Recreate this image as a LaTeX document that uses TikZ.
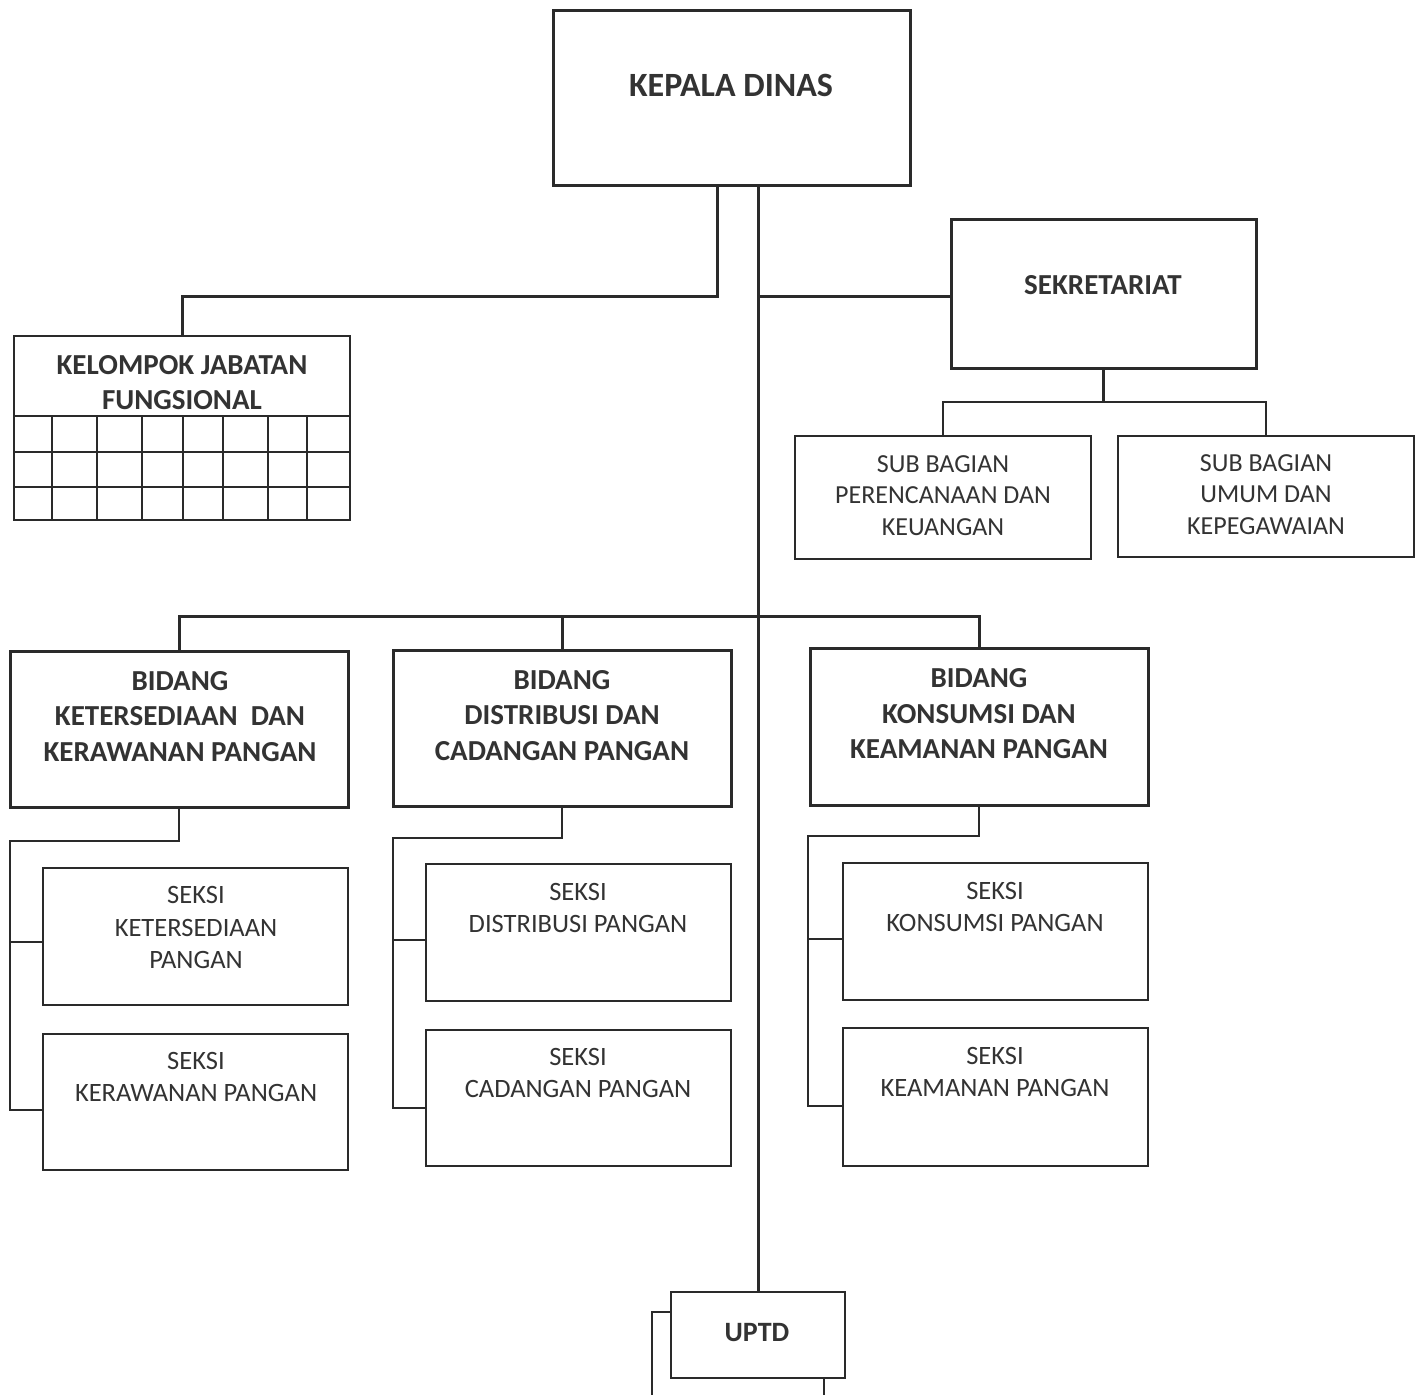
\documentclass[tikz,border=0pt]{standalone}
\usepackage{fontspec}
\setmainfont{Carlito}
\definecolor{linec}{HTML}{2A2A2A}
\definecolor{textc}{HTML}{333333}
\tikzset{
  box/.style={draw=linec, line width=3pt, inner sep=0pt, fill=white},
  thinbox/.style={draw=linec, line width=2.4pt, inner sep=0pt, fill=white},
  conn/.style={draw=linec, line width=3pt},
  bigtxt/.style={text=textc, font=\fontsize{34}{40}\selectfont\bfseries, inner sep=0pt},
  headtxt/.style={text=textc, font=\fontsize{29}{35.5}\selectfont\bfseries, align=center, inner sep=0pt},
  subtxt/.style={text=textc, font=\fontsize{26}{31.5}\selectfont, align=center, inner sep=0pt},
  sektxt/.style={text=textc, font=\fontsize{26.5}{32.5}\selectfont, align=center, inner sep=0pt}
}
\begin{document}
\begin{tikzpicture}[x=1pt,y=-1pt]
\useasboundingbox[fill=white] (0,0) rectangle (1424,1395);

% ---- boxes ----
\node[box, minimum width=357, minimum height=175] (kd) at (731.5,97.5) {};
\node[box, minimum width=305, minimum height=149] (sek) at (1103.5,293.5) {};
\node[thinbox, minimum width=296, minimum height=123] (sb1) at (943,497.5) {};
\node[thinbox, minimum width=296, minimum height=121] (sb2) at (1266,496.5) {};
\node[box, line width=2.6pt, minimum width=336, minimum height=184] (kjf) at (182,428) {};

\node[box, minimum width=338, minimum height=156] (bd1) at (179,729) {};
\node[box, minimum width=338, minimum height=156] (bd2) at (562,728) {};
\node[box, minimum width=338, minimum height=157] (bd3) at (979,726.5) {};

\node[thinbox, minimum width=305, minimum height=137] (s1a) at (195.5,936.5) {};
\node[thinbox, minimum width=305, minimum height=136] (s1b) at (195.5,1102) {};
\node[thinbox, minimum width=305, minimum height=137] (s2a) at (578.5,932.5) {};
\node[thinbox, minimum width=305, minimum height=136] (s2b) at (578.5,1098) {};
\node[thinbox, minimum width=305, minimum height=137] (s3a) at (995.5,931.5) {};
\node[thinbox, minimum width=305, minimum height=138] (s3b) at (995.5,1097) {};

% ---- UPTD (with box behind) ----
\coordinate (ush) at (652,1312);
\coordinate (ush2) at (824,1378);
\coordinate (bot) at (0,1395);
\draw[conn, line width=2.6pt] (671,1312) -- (ush) -- (ush |- bot);
\draw[conn, line width=2.6pt] (ush2) -- (ush2 |- bot);
\node[box, line width=2.6pt, minimum width=174, minimum height=86] (uptd) at (758,1335) {};

% ---- grid of Kelompok Jabatan Fungsional ----
\foreach \yy in {416,452,487} \draw[linec, line width=2.4pt] (14,\yy) -- (350,\yy);
\foreach \xx in {52,97,142,183,223,268,307} \draw[linec, line width=2.4pt] (\xx,416) -- (\xx,520);

% ---- texts ----
\node[bigtxt] (kd-t) at (731,85) {KEPALA DINAS};
\node[headtxt] (sek-t) at (1103,285) {SEKRETARIAT};
\node[headtxt] (kjf-t) at (182,382.5) {KELOMPOK JABATAN\\FUNGSIONAL};
\node[subtxt] (sb1-t) at (943,495.5) {SUB BAGIAN\\PERENCANAAN DAN\\KEUANGAN};
\node[subtxt] (sb2-t) at (1266,494.5) {SUB BAGIAN\\UMUM DAN\\KEPEGAWAIAN};
\node[headtxt] (bd1-t) at (180,716.5) {BIDANG\\KETERSEDIAAN\ \ DAN\\KERAWANAN PANGAN};
\node[headtxt] (bd2-t) at (562,715.5) {BIDANG\\DISTRIBUSI DAN\\CADANGAN PANGAN};
\node[headtxt] (bd3-t) at (979,714) {BIDANG\\KONSUMSI DAN\\KEAMANAN PANGAN};
\node[sektxt] (s1a-t) at (196,927.5) {SEKSI\\KETERSEDIAAN\\PANGAN};
\node[sektxt] (s1b-t) at (196,1077) {SEKSI\\KERAWANAN PANGAN};
\node[sektxt] (s2a-t) at (578,908) {SEKSI\\DISTRIBUSI PANGAN};
\node[sektxt] (s2b-t) at (578,1073) {SEKSI\\CADANGAN PANGAN};
\node[sektxt] (s3a-t) at (995,907) {SEKSI\\KONSUMSI PANGAN};
\node[sektxt] (s3b-t) at (995,1072) {SEKSI\\KEAMANAN PANGAN};
\node[headtxt, font=\fontsize{28}{34}\selectfont\bfseries] (uptd-t) at (757,1333) {UPTD};

% ---- connectors ----
\coordinate (jk) at (717,296);
\coordinate (y296) at (0,296);
\draw[conn] (jk |- kd.south) -- (jk) -| (kjf.north);
\draw[conn] (uptd.north |- kd.south) -- (uptd.north);
\draw[conn] (uptd.north |- y296) -- (sek.west |- y296);
\coordinate (sbus) at (0,402);
\draw[conn, line width=2.6pt] (sek.south) -- (sek.south |- sbus);
\draw[conn, line width=2.6pt] (sb1.north) |- (sbus -| sb2.north) -- (sb2.north);
\coordinate (bbus) at (0,616);
\draw[conn] (bd1.north) |- (bbus -| bd3.north) -- (bd3.north);
\draw[conn] (bd2.north) -- (bd2.north |- bbus);

\coordinate (l1) at (10,841);
\coordinate (l2) at (393,838);
\coordinate (l3) at (808,836);
\coordinate (b1a) at (0,942);
\coordinate (b1b) at (0,1110);
\coordinate (b2a) at (0,940);
\coordinate (b2b) at (0,1108);
\coordinate (b3a) at (0,939);
\coordinate (b3b) at (0,1106);
\draw[conn, line width=2.6pt] (bd1.south) |- (l1) |- (s1b.west |- b1b);
\draw[conn, line width=2.6pt] (l1 |- b1a) -- (s1a.west |- b1a);
\draw[conn, line width=2.6pt] (bd2.south) |- (l2) |- (s2b.west |- b2b);
\draw[conn, line width=2.6pt] (l2 |- b2a) -- (s2a.west |- b2a);
\draw[conn, line width=2.6pt] (bd3.south) |- (l3) |- (s3b.west |- b3b);
\draw[conn, line width=2.6pt] (l3 |- b3a) -- (s3a.west |- b3a);
\end{tikzpicture}
\end{document}
